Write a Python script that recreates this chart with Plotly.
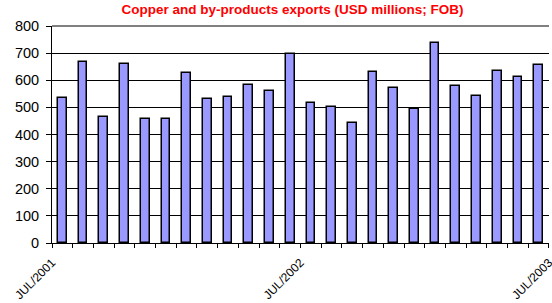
import plotly.graph_objects as go

months = ["JUL/2001", "AUG/2001", "SEP/2001", "OCT/2001", "NOV/2001", "DEC/2001",
          "JAN/2002", "FEB/2002", "MAR/2002", "APR/2002", "MAY/2002", "JUN/2002",
          "JUL/2002", "AUG/2002", "SEP/2002", "OCT/2002", "NOV/2002", "DEC/2002",
          "JAN/2003", "FEB/2003", "MAR/2003", "APR/2003", "MAY/2003", "JUN/2003"]
exports = [534, 669, 463, 661, 458, 456, 628, 531, 540, 584, 561, 696,
           515, 500, 441, 632, 572, 494, 739, 580, 541, 633, 611, 656]
tick_positions = list(range(0, 25))
tick_labels = ["JUL/2001"] + [""] * 11 + ["JUL/2002"] + [""] * 11 + ["JUL/2003"]

x_pos = [i + 0.5 for i in range(len(months))]

fig = go.Figure()
fig.add_trace(go.Bar(
    x=x_pos, y=exports, width=0.42,
    marker=dict(color="#9999FF", line=dict(color="#000000", width=1.5)),
    hovertext=months,
))

fig.update_layout(
    width=552, height=303,
    margin=dict(l=52, r=3, t=26, b=60, autoexpand=False),
    paper_bgcolor="white", plot_bgcolor="white",
    showlegend=False,
    title=dict(text="<b>Copper and by-products exports (USD millions; FOB)</b>",
               font=dict(family="Liberation Sans, Arial", size=13.5, color="#FF0000"),
               x=0.53, xanchor="center", y=0.97, yanchor="middle", automargin=False),
    bargap=0,
)
fig.update_xaxes(
    range=[-0.001, 24.001], tickmode="array", tickvals=tick_positions, ticktext=tick_labels,
    tickangle=-45, ticks="outside", ticklen=4, tickcolor="black", automargin=False,
    ticklabeloverflow="allow", ticklabelstandoff=3,
    showline=True, linecolor="black", linewidth=1, showgrid=False, zeroline=False,
    tickfont=dict(family="Liberation Sans, Arial", size=12, color="black"),
)
fig.update_yaxes(
    range=[0, 800], dtick=100, ticks="outside", ticklen=5, tickcolor="black",
    automargin=False, ticklabelstandoff=4,
    showline=True, linecolor="black", linewidth=1,
    showgrid=True, gridcolor="#000000", gridwidth=1, zeroline=False,
    tickfont=dict(family="Liberation Sans, Arial", size=14.5, color="black"),
)
fig.add_shape(type="line", xref="paper", yref="paper", x0=0, x1=1, y0=1, y1=1,
              line=dict(color="#808080", width=2))

fig.write_html("out.html", config={"displayModeBar": False},
               post_script="document.body.style.margin='0';document.body.style.overflow='hidden';")
